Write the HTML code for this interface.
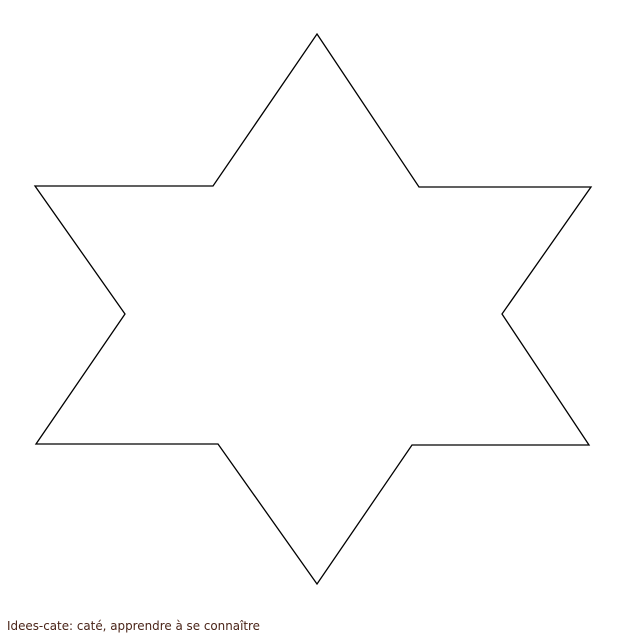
<!DOCTYPE html>
<html><head><meta charset="utf-8"><style>
html,body{margin:0;padding:0;background:#fff;width:636px;height:635px;overflow:hidden}
svg{display:block}
</style></head><body>
<svg width="636" height="635">
<polygon points="317,34 419,187 591,187 502,314 589,445 412,445 317,584 218,444 36,444 125,314 35,186 213,186" fill="#fff" stroke="#000" stroke-width="1.3"/>
<text x="7" y="630" font-family="'DejaVu Sans','Liberation Sans',sans-serif" font-size="12.5" fill="#4a2418" textLength="253" lengthAdjust="spacingAndGlyphs">Idees-cate: caté, apprendre à se connaître</text>
</svg>
</body></html>
